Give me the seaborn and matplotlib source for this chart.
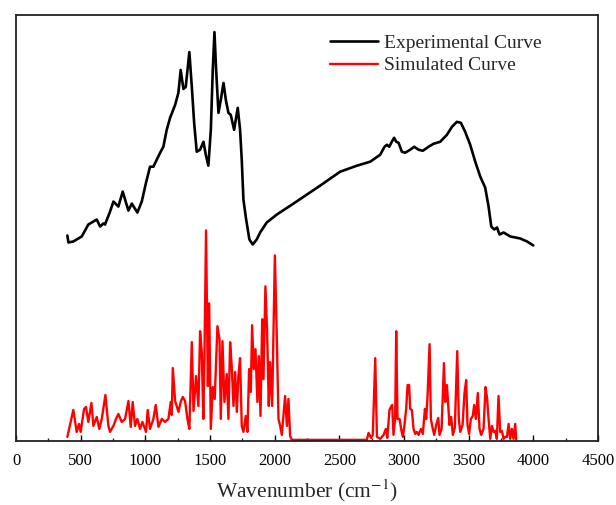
import matplotlib
matplotlib.use("Agg")
import matplotlib.pyplot as plt
from matplotlib.ticker import MultipleLocator
import pandas as pd
import numpy as np
import seaborn as sns

# experimental IR spectrum (offset upwards), arbitrary units
exp_wn = [397, 405, 443, 508, 559, 598, 624, 650, 675, 688, 727, 753, 791, 825,
          843, 869, 895, 938, 972, 1005, 1036, 1062, 1088, 1114, 1139, 1165, 1191,
          1230, 1255, 1273, 1294, 1312, 1340, 1359, 1377, 1397, 1423, 1449, 1467,
          1487, 1506, 1521, 1534, 1547, 1565, 1583, 1604, 1622, 1642, 1660, 1686,
          1714, 1732, 1745, 1758, 1779, 1804, 1830, 1861, 1887, 1938, 2016, 2145,
          2248, 2351, 2506, 2635, 2738, 2815, 2849, 2867, 2885, 2905, 2923, 2939,
          2957, 2983, 3008, 3047, 3078, 3112, 3145, 3189, 3228, 3279, 3331, 3370,
          3408, 3439, 3472, 3511, 3550, 3589, 3627, 3653, 3674, 3697, 3718, 3738,
          3769, 3821, 3898, 3950, 3999]
exp_int = [205, 198, 199, 204, 216, 219, 221, 214, 217, 216, 229, 239, 234, 249,
           241, 230, 237, 228, 239, 258, 274, 274, 281, 288, 294, 311, 323,
           336, 348, 371, 352, 354, 389, 354, 318, 289, 291, 299, 286,
           275, 311, 371, 409, 371, 328, 341, 358, 341, 328, 326, 311,
           333, 311, 281, 241, 221, 201, 196, 201, 208, 218, 226, 237,
           246, 255, 269, 275, 279, 286, 294, 296, 294, 299, 303, 299,
           298, 289, 288, 291, 294, 291, 290, 294, 297, 299, 306, 314,
           319, 318, 309, 296, 279, 264, 253, 234, 214, 211, 213, 206,
           208, 204, 202, 199, 195]

# simulated spectrum, arbitrary units
sim_wn = [397, 443, 469, 487, 500, 526, 541, 559, 583, 598, 624, 644, 663, 691,
          714, 727, 753, 773, 791, 817, 843, 869, 887, 902, 920, 938, 959, 977,
          1005, 1018, 1036, 1062, 1080, 1101, 1127, 1152, 1178, 1196, 1204, 1212,
          1230, 1256, 1273, 1289, 1307, 1325, 1340, 1359, 1372, 1392, 1410, 1423,
          1436, 1448, 1456, 1469, 1483, 1493, 1506, 1521, 1536, 1557, 1573, 1583,
          1596, 1611, 1629, 1642, 1655, 1668, 1681, 1694, 1707, 1719, 1732, 1745,
          1758, 1776, 1789, 1802, 1815, 1825, 1838, 1851, 1866, 1877, 1890, 1903,
          1913, 1928, 1941, 1954, 1964, 1980, 2001, 2016, 2029, 2042, 2055, 2080,
          2094, 2106, 2119, 2132, 2712, 2725, 2745, 2758, 2777, 2790, 2816, 2841,
          2859, 2870, 2887, 2898, 2908, 2918, 2931, 2939, 2949, 2965, 2977, 2990,
          3003, 3016, 3027, 3039, 3047, 3060, 3073, 3086, 3099, 3112, 3130, 3145,
          3161, 3171, 3181, 3197, 3207, 3222, 3233, 3248, 3264, 3274, 3290, 3308,
          3318, 3331, 3341, 3351, 3364, 3377, 3392, 3411, 3423, 3434, 3452, 3467,
          3480, 3490, 3503, 3516, 3531, 3542, 3555, 3570, 3583, 3596, 3614, 3630,
          3642, 3653, 3666, 3679, 3692, 3705, 3717, 3730, 3743, 3756, 3769, 3782,
          3795, 3808, 3820, 3833, 3846, 3859, 3867]
sim_int = [3, 30, 8, 16, 8, 31, 33, 18, 37, 14, 23, 11, 21, 45,
           14, 8, 14, 21, 26, 18, 21, 39, 13, 38, 14, 21, 11, 18,
           8, 30, 11, 21, 35, 13, 21, 18, 21, 38, 25, 72,
           39, 28, 38, 43, 39, 21, 11, 98, 29, 64, 34, 109,
           88, 21, 78, 210, 54, 137, 11, 53, 41, 114, 101, 21,
           99, 38, 66, 21, 98, 73, 34, 68, 28, 64, 82, 14,
           8, 24, 8, 71, 48, 115, 71, 91, 38, 84, 24, 121,
           61, 154, 109, 34, 78, 34, 185, 104, 21, 14, 5, 44,
           14, 41, 4, 0, 0, 7, 2, 5, 82, 3, 1, 5,
           11, 2, 30, 33, 35, 5, 22, 109, 21, 21, 11, 3,
           15, 31, 55, 55, 31, 30, 11, 6, 8, 5, 11, 6,
           31, 21, 43, 96, 21, 11, 5, 15, 22, 5, 11, 77,
           38, 55, 35, 15, 23, 5, 12, 89, 21, 8, 15, 47,
           60, 15, 6, 21, 24, 35, 21, 47, 11, 5, 11, 53,
           41, 21, 1, 14, 8, 9, 1, 44, 8, 9, 1, 3,
           3, 16, 1, 11, 1, 16, 0]

sns.set_style("ticks")
plt.rcParams['font.family'] = ['Liberation Serif', 'DejaVu Serif']
plt.rcParams['mathtext.fontset'] = 'stix'

fig = plt.figure(figsize=(6.16, 5.05), dpi=100)
ax = fig.add_axes([0.026, 0.127, 0.945, 0.843])

sns.lineplot(x=exp_wn, y=exp_int, color="black", lw=1.9, ax=ax,
             label="Experimental Curve", estimator=None, sort=False)
sns.lineplot(x=sim_wn, y=sim_int, color="red", lw=1.7, ax=ax,
             label="Simulated Curve", estimator=None, sort=False)

ax.set_xlim(0, 4500)
ax.set_ylim(-1, 426)
ax.xaxis.set_major_locator(MultipleLocator(500))
ax.xaxis.set_minor_locator(MultipleLocator(250))
ax.set_yticks([])
ax.tick_params(axis='x', which='major', direction='in', length=4.5, width=1,
               labelsize=12, pad=9, colors='black')
ax.tick_params(axis='x', which='minor', direction='in', length=2.5, width=1)
for s in ax.spines.values():
    s.set_linewidth(1.3)
    s.set_color('#222222')
ax.set_ylabel('')
ax.set_xlabel('Wavenumber (cm$^{-1}$)', fontsize=15.5, labelpad=6)

ax.legend(loc='upper left', bbox_to_anchor=(0.5395, 0.955), frameon=False,
          fontsize=14, borderpad=0, borderaxespad=0, handlelength=2.45,
          handletextpad=0.3, labelspacing=0.25)

plt.savefig("out.png", dpi=100)
